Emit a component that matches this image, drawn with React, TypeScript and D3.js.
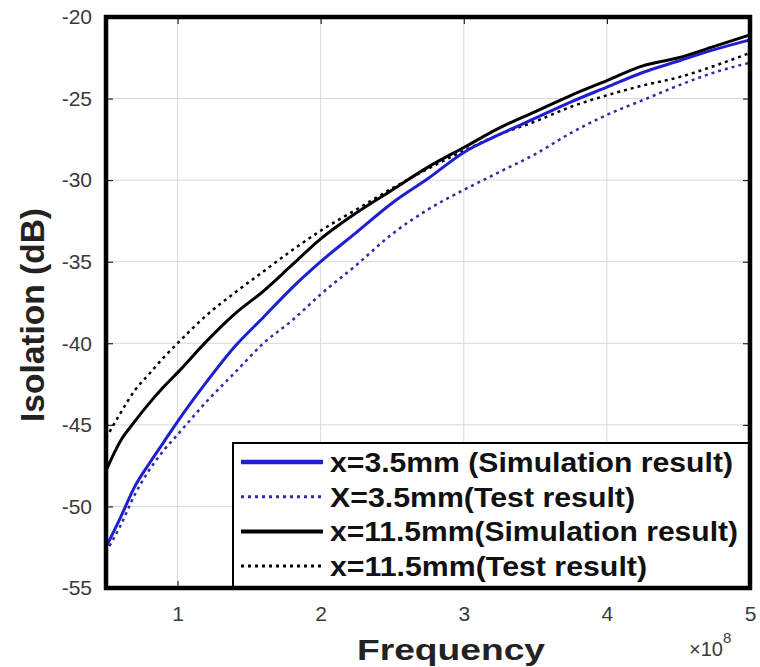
import React, { useEffect, useRef } from 'react';
import * as d3 from 'd3';

// Frequency in units of 1e8 Hz
const freq = [0.5, 0.6, 0.7, 0.8, 0.9, 1.0, 1.2, 1.4, 1.6, 1.8, 2.0, 2.25, 2.5, 2.75, 3.0, 3.25, 3.5, 3.75, 4.0, 4.25, 4.5, 4.75, 5.0];

// Isolation (dB)
const sim35 = [-52.5, -50.7, -48.8, -47.4, -46.1, -44.8, -42.4, -40.2, -38.4, -36.6, -35.0, -33.2, -31.4, -29.9, -28.3, -27.2, -26.2, -25.2, -24.3, -23.4, -22.7, -22.0, -21.4];
const test35 = [-52.8, -51.2, -49.3, -47.8, -46.6, -45.6, -43.6, -41.8, -40.0, -38.6, -37.0, -35.2, -33.3, -31.8, -30.6, -29.5, -28.4, -27.1, -26.0, -25.1, -24.2, -23.4, -22.8];
const sim115 = [-47.8, -46.0, -44.8, -43.7, -42.7, -41.8, -39.9, -38.2, -36.8, -35.2, -33.6, -32.0, -30.6, -29.2, -28.0, -26.8, -25.8, -24.8, -23.9, -23.0, -22.5, -21.8, -21.1];
const test115 = [-45.8, -44.3, -42.9, -41.9, -40.9, -40.0, -38.3, -36.9, -35.6, -34.3, -33.1, -31.8, -30.5, -29.3, -28.2, -27.2, -26.4, -25.5, -24.8, -24.2, -23.7, -23.0, -22.2];

const xTicks = [1, 2, 3, 4, 5];
const yTicks = [-55, -50, -45, -40, -35, -30, -25, -20];

const seriesNames = [
  'x=3.5mm (Simulation result)',
  'X=3.5mm(Test result)',
  'x=11.5mm(Simulation result)',
  'x=11.5mm(Test result)',
];
const seriesValues = [sim35, test35, sim115, test115];

const FONT = '"Liberation Sans", Arial, sans-serif';

const App = () => {
  const svgRef = useRef<SVGSVGElement | null>(null);

  useEffect(() => {
    if (!svgRef.current) return;
    const svg = d3.select(svgRef.current);
    svg.selectAll('*').remove();

    const width = 760;
    const height = 667;
    const margin = { top: 17, right: 10, bottom: 79, left: 106 };
    const x0 = margin.left, x1 = width - margin.right;
    const y0 = height - margin.bottom, y1 = margin.top;

    const styles = [
      { color: '#1f1fd0', width: 3, dash: null, legendWidth: 4.5 },
      { color: '#2c2ca8', width: 2.5, dash: '3,4', legendWidth: 3 },
      { color: '#000000', width: 3, dash: null, legendWidth: 4 },
      { color: '#000000', width: 2.5, dash: '3,4', legendWidth: 3 },
    ];

    const x = d3.scaleLinear().domain([0.5, 5]).range([x0, x1]);
    const y = d3.scaleLinear().domain([-55, -20]).range([y0, y1]);

    svg.append('rect').attr('width', width).attr('height', height).attr('fill', '#fff');

    // grid
    const grid = svg.append('g').attr('stroke', '#d8d8d8').attr('stroke-width', 1);
    xTicks.forEach(t => grid.append('line').attr('x1', x(t)).attr('x2', x(t)).attr('y1', y1).attr('y2', y0));
    yTicks.forEach(t => grid.append('line').attr('x1', x0).attr('x2', x1).attr('y1', y(t)).attr('y2', y(t)));

    // axes with inward ticks
    const tickFont = (g: any) => g.selectAll('text')
      .style('font-family', FONT)
      .style('font-size', '21px')
      .attr('fill', '#3a3a3a');

    svg.append('g')
      .attr('transform', `translate(0,${y0})`)
      .call(d3.axisBottom(x).tickValues(xTicks).tickFormat(d => String(d)).tickSizeInner(-7).tickSizeOuter(0).tickPadding(18))
      .call(g => g.select('.domain').remove())
      .call(tickFont);

    svg.append('g')
      .attr('transform', `translate(${x0},0)`)
      .call(d3.axisLeft(y).tickValues(yTicks).tickFormat(d => String(d)).tickSizeInner(-7).tickSizeOuter(0).tickPadding(14))
      .call(g => g.select('.domain').remove())
      .call(tickFont);

    svg.append('g')
      .attr('transform', `translate(0,${y1})`)
      .call(d3.axisTop(x).tickValues(xTicks).tickSizeInner(-7).tickSizeOuter(0).tickFormat(() => ''))
      .call(g => g.select('.domain').remove());

    svg.append('g')
      .attr('transform', `translate(${x1},0)`)
      .call(d3.axisRight(y).tickValues(yTicks).tickSizeInner(-7).tickSizeOuter(0).tickFormat(() => ''))
      .call(g => g.select('.domain').remove());

    // lines
    const line = d3.line<number>()
      .x((d, i) => x(freq[i]))
      .y(d => y(d))
      .curve(d3.curveMonotoneX);

    [1, 3, 0, 2].forEach(k => {
      svg.append('path')
        .datum(seriesValues[k])
        .attr('fill', 'none')
        .attr('stroke', styles[k].color)
        .attr('stroke-width', styles[k].width)
        .attr('stroke-dasharray', styles[k].dash)
        .attr('stroke-linejoin', 'round')
        .attr('d', line);
    });

    // legend
    const legend = svg.append('g');
    legend.append('rect')
      .attr('x', 233).attr('y', 443)
      .attr('width', x1 - 233).attr('height', y0 - 443)
      .attr('fill', '#fff')
      .attr('stroke', '#000')
      .attr('stroke-width', 2);

    const textLengths = [403, 305, 408, 317];
    seriesNames.forEach((name, i) => {
      const cy = 462 + i * 34.7;
      legend.append('line')
        .attr('x1', 241).attr('x2', 323)
        .attr('y1', cy).attr('y2', cy)
        .attr('stroke', styles[i].color)
        .attr('stroke-width', styles[i].legendWidth)
        .attr('stroke-dasharray', styles[i].dash);
      legend.append('text')
        .attr('x', 330)
        .attr('y', cy + 10)
        .attr('textLength', textLengths[i])
        .attr('lengthAdjust', 'spacingAndGlyphs')
        .style('font-family', FONT)
        .style('font-size', '27px')
        .style('font-weight', 'bold')
        .attr('fill', '#111')
        .text(name);
    });

    // frame
    svg.append('rect')
      .attr('x', x0).attr('y', y1)
      .attr('width', x1 - x0).attr('height', y0 - y1)
      .attr('fill', 'none')
      .attr('stroke', '#000')
      .attr('stroke-width', 4.5);

    // axis labels
    svg.append('text')
      .attr('x', 357)
      .attr('y', 660)
      .attr('textLength', 188)
      .attr('lengthAdjust', 'spacingAndGlyphs')
      .style('font-family', FONT)
      .style('font-size', '30px')
      .style('font-weight', 'bold')
      .attr('fill', '#222')
      .text('Frequency');

    svg.append('text')
      .attr('transform', `translate(44,315) rotate(-90)`)
      .attr('text-anchor', 'middle')
      .attr('textLength', 214)
      .attr('lengthAdjust', 'spacingAndGlyphs')
      .style('font-family', FONT)
      .style('font-size', '34px')
      .style('font-weight', 'bold')
      .attr('fill', '#222')
      .text('Isolation (dB)');

    const exp = svg.append('text')
      .attr('x', 689)
      .attr('y', 656)
      .style('font-family', FONT)
      .style('font-size', '20px')
      .attr('fill', '#3a3a3a');
    exp.append('tspan').text('\u00d710');
    exp.append('tspan').attr('dy', -13).style('font-size', '15px').text('8');

  }, []);

  return (
    <svg
      ref={svgRef}
      width={760}
      height={667}
      style={{ position: 'absolute', left: 0, top: 0, display: 'block' }}
    />
  );
};

export default App;
